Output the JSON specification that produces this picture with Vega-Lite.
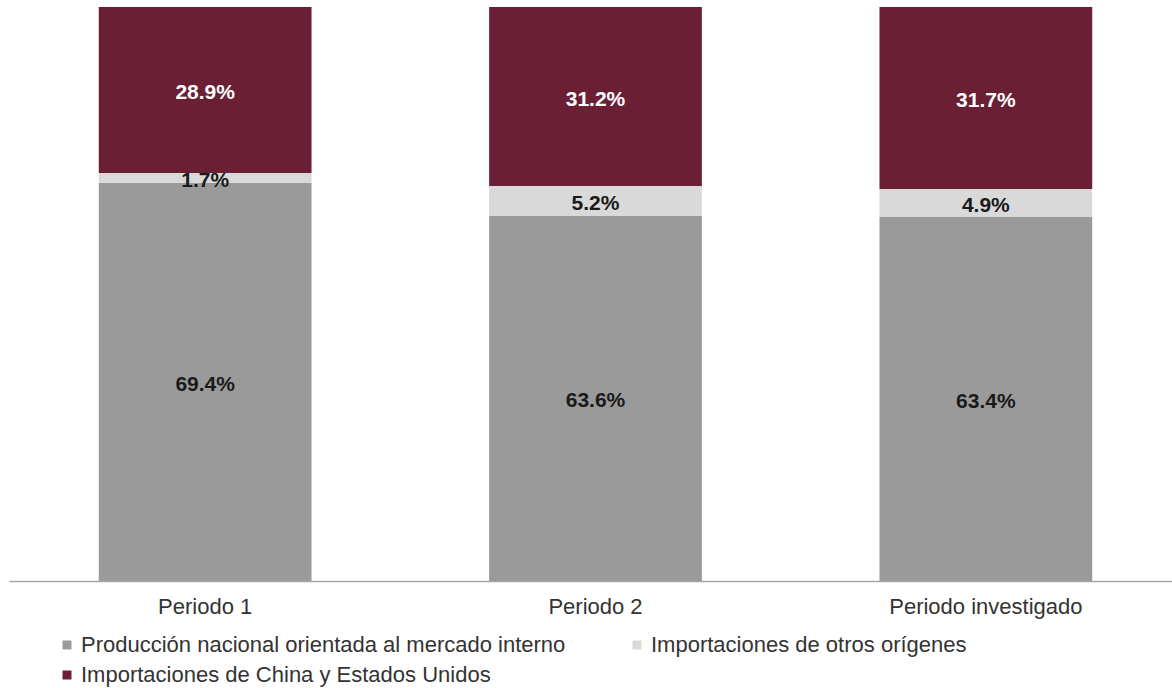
{
  "$schema": "https://vega.github.io/schema/vega-lite/v6.json",
  "width": 1173,
  "height": 574,
  "autosize": {"type": "none"},
  "padding": {"left": 9, "top": 7, "right": 0, "bottom": 107},
  "background": "white",
  "config": {"view": {"stroke": null}},
  "data": {
    "values": [
      {"periodo": "Periodo 1", "serie": "Producción nacional orientada al mercado interno", "pct": 0.694},
      {"periodo": "Periodo 1", "serie": "Importaciones de otros orígenes", "pct": 0.017},
      {"periodo": "Periodo 1", "serie": "Importaciones de China y Estados Unidos", "pct": 0.289},
      {"periodo": "Periodo 2", "serie": "Producción nacional orientada al mercado interno", "pct": 0.636},
      {"periodo": "Periodo 2", "serie": "Importaciones de otros orígenes", "pct": 0.052},
      {"periodo": "Periodo 2", "serie": "Importaciones de China y Estados Unidos", "pct": 0.312},
      {"periodo": "Periodo investigado", "serie": "Producción nacional orientada al mercado interno", "pct": 0.634},
      {"periodo": "Periodo investigado", "serie": "Importaciones de otros orígenes", "pct": 0.049},
      {"periodo": "Periodo investigado", "serie": "Importaciones de China y Estados Unidos", "pct": 0.317}
    ]
  },
  "transform": [
    {"stack": "pct", "groupby": ["periodo"], "sort": [{"field": "serie", "order": "descending"}], "as": ["y0", "y1"]},
    {"calculate": "(datum.y0 + datum.y1) / 2", "as": "ymid"}
  ],
  "encoding": {
    "x": {
      "field": "periodo",
      "type": "nominal",
      "sort": ["Periodo 1", "Periodo 2", "Periodo investigado"],
      "scale": {"paddingInner": 0.455, "paddingOuter": 0.23},
      "axis": {
        "title": null,
        "labelAngle": 0,
        "labelFont": "Liberation Sans",
        "labelFontSize": 22,
        "labelColor": "#333333",
        "labelPadding": 15,
        "labelLimit": 1000,
        "ticks": false,
        "domainColor": "#a6a6a6",
        "domainWidth": 1.5
      }
    }
  },
  "layer": [
    {
      "mark": {"type": "bar"},
      "encoding": {
        "y": {"field": "y0", "type": "quantitative", "scale": {"domain": [0, 1]}, "axis": null},
        "y2": {"field": "y1"},
        "color": {
          "field": "serie",
          "type": "nominal",
          "scale": {
            "domain": ["Producción nacional orientada al mercado interno", "Importaciones de otros orígenes", "Importaciones de China y Estados Unidos"],
            "range": ["#9a9a9a", "#d9d9d9", "#6a1f34"]
          },
          "legend": {
            "title": null,
            "orient": "none",
            "legendX": 47,
            "legendY": 627,
            "direction": "horizontal",
            "columns": 2,
            "symbolType": "square",
            "symbolSize": 81,
            "symbolStrokeWidth": 0,
            "labelFont": "Liberation Sans",
            "labelFontSize": 22,
            "labelColor": "#333333",
            "labelOffset": 3,
            "labelLimit": 1000,
            "rowPadding": 8,
            "columnPadding": 60,
            "padding": 0
          }
        }
      }
    },
    {
      "mark": {"type": "text", "font": "Liberation Sans", "fontWeight": "bold", "fontSize": 21, "baseline": "middle", "align": "center", "dy": 3},
      "encoding": {
        "y": {"field": "ymid", "type": "quantitative", "scale": {"domain": [0, 1]}},
        "text": {"field": "pct", "type": "quantitative", "format": ".1%"},
        "color": {
          "condition": {"test": "datum.serie === 'Importaciones de China y Estados Unidos'", "value": "#ffffff"},
          "value": "#1a1a1a"
        }
      }
    }
  ]
}
